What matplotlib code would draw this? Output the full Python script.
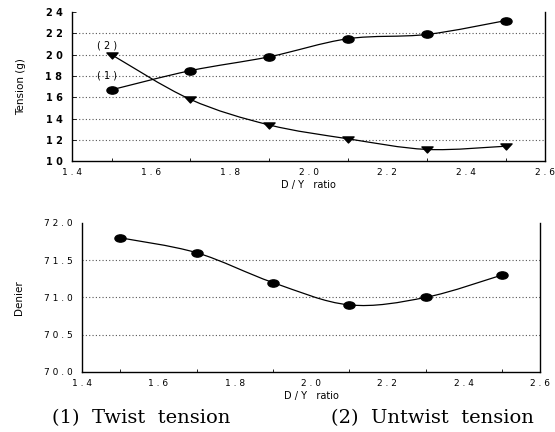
import numpy as np
import matplotlib
matplotlib.use("Agg")
import matplotlib.pyplot as plt
from matplotlib.path import Path
from matplotlib.patches import PathPatch

dy_ratio = [1.5, 1.7, 1.9, 2.1, 2.3, 2.5]
twist_tension = [16.7, 18.5, 19.8, 21.5, 21.9, 23.2]
untwist_tension = [20.0, 15.8, 13.4, 12.1, 11.1, 11.4]
denier = [71.8, 71.6, 71.2, 70.9, 71.0, 71.3]

top_yticks = [10, 12, 14, 16, 18, 20, 22, 24]
bot_yticks = [70.0, 70.5, 71.0, 71.5, 72.0]
xticks = [1.4, 1.6, 1.8, 2.0, 2.2, 2.4, 2.6]

# flattened marker shapes (ellipse and wide down-triangle)
_c = Path.unit_circle()
ellipse_marker = Path(_c.vertices * np.array([1.3, 0.85]), _c.codes)
tri_marker = Path([(-1.2, 0.55), (1.2, 0.55), (0.0, -0.75), (-1.2, 0.55)],
                  [Path.MOVETO, Path.LINETO, Path.LINETO, Path.CLOSEPOLY])


def smooth_path(ax, xs, ys):
    xs = list(xs); ys = list(ys)
    n = len(xs)
    verts = [(xs[0], ys[0])]
    codes = [Path.MOVETO]
    for i in range(n - 1):
        x0, y0 = (xs[i - 1], ys[i - 1]) if i > 0 else (xs[i], ys[i])
        x1, y1 = xs[i], ys[i]
        x2, y2 = xs[i + 1], ys[i + 1]
        x3, y3 = (xs[i + 2], ys[i + 2]) if i + 2 < n else (x2, y2)
        c1 = (x1 + (x2 - x0) / 6.0, y1 + (y2 - y0) / 6.0)
        c2 = (x2 - (x3 - x1) / 6.0, y2 - (y3 - y1) / 6.0)
        verts += [c1, c2, (x2, y2)]
        codes += [Path.CURVE4] * 3
    ax.add_patch(PathPatch(Path(verts, codes), facecolor="none",
                           edgecolor="black", lw=0.9, zorder=2))


def style(ax, yticks, fmt, bold):
    ax.set_xlim(1.4, 2.6)
    ax.set_ylim(yticks[0], yticks[-1])
    ax.set_xticks(xticks)
    ax.set_xticklabels([" ".join(f"{v:.1f}") for v in xticks],
                       fontsize=6.5, family="DejaVu Sans")
    ax.set_yticks(yticks)
    ax.set_yticklabels([" ".join(fmt.format(v)) for v in yticks],
                       fontsize=7 if bold else 6.5, family="DejaVu Sans",
                       fontweight="bold" if bold else "normal")
    ax.set_xticks(np.arange(1.4, 2.61, 0.1), minor=True)
    ax.tick_params(axis="x", which="both", direction="in", length=2, width=0.6, pad=5)
    ax.tick_params(axis="x", which="major", length=0)
    ax.tick_params(axis="y", which="major", direction="in", length=3 if bold else 0,
                   width=0.6, pad=7)
    ax.spines["top"].set_visible(False)
    for s in ("left", "bottom", "right"):
        ax.spines[s].set_linewidth(1.0)
    for v in yticks[1:-1]:
        ax.axhline(v, color="#555555", lw=0.8, ls=(0, (1, 2)), zorder=1)
    ax.set_xlabel("D / Y   ratio", fontsize=7, labelpad=2)


fig = plt.figure(figsize=(5.55, 4.32), dpi=100)

ax1 = fig.add_axes([0.130, 0.627, 0.852, 0.345])
style(ax1, top_yticks, "{:d}", True)
smooth_path(ax1, dy_ratio, twist_tension)
smooth_path(ax1, dy_ratio, untwist_tension)
ax1.plot(dy_ratio, twist_tension, ls="none", marker=ellipse_marker, color="black",
         markersize=8, zorder=3)
ax1.plot(dy_ratio, untwist_tension, ls="none", marker=tri_marker, color="black",
         markersize=8, zorder=3)
ax1.set_ylabel("Tension (g)", fontsize=7.5, family="Liberation Sans Narrow", labelpad=14)
ax1.text(1.488, 17.6, "( 1 )", fontsize=7, ha="center", va="bottom")
ax1.text(1.488, 20.35, "( 2 )", fontsize=7, ha="center", va="bottom")

ax2 = fig.add_axes([0.148, 0.139, 0.825, 0.345])
style(ax2, bot_yticks, "{:.1f}", False)
smooth_path(ax2, dy_ratio, denier)
ax2.plot(dy_ratio, denier, ls="none", marker=ellipse_marker, color="black",
         markersize=8, zorder=3)
ax2.set_ylabel("Denier", fontsize=7.5, family="Liberation Sans Narrow", labelpad=14)

fig.text(0.254, 0.032, "(1)  Twist  tension", fontsize=14, family="DejaVu Serif",
         ha="center", va="center")
fig.text(0.78, 0.032, "(2)  Untwist  tension", fontsize=14, family="DejaVu Serif",
         ha="center", va="center")

fig.savefig("out.png", dpi=100)
